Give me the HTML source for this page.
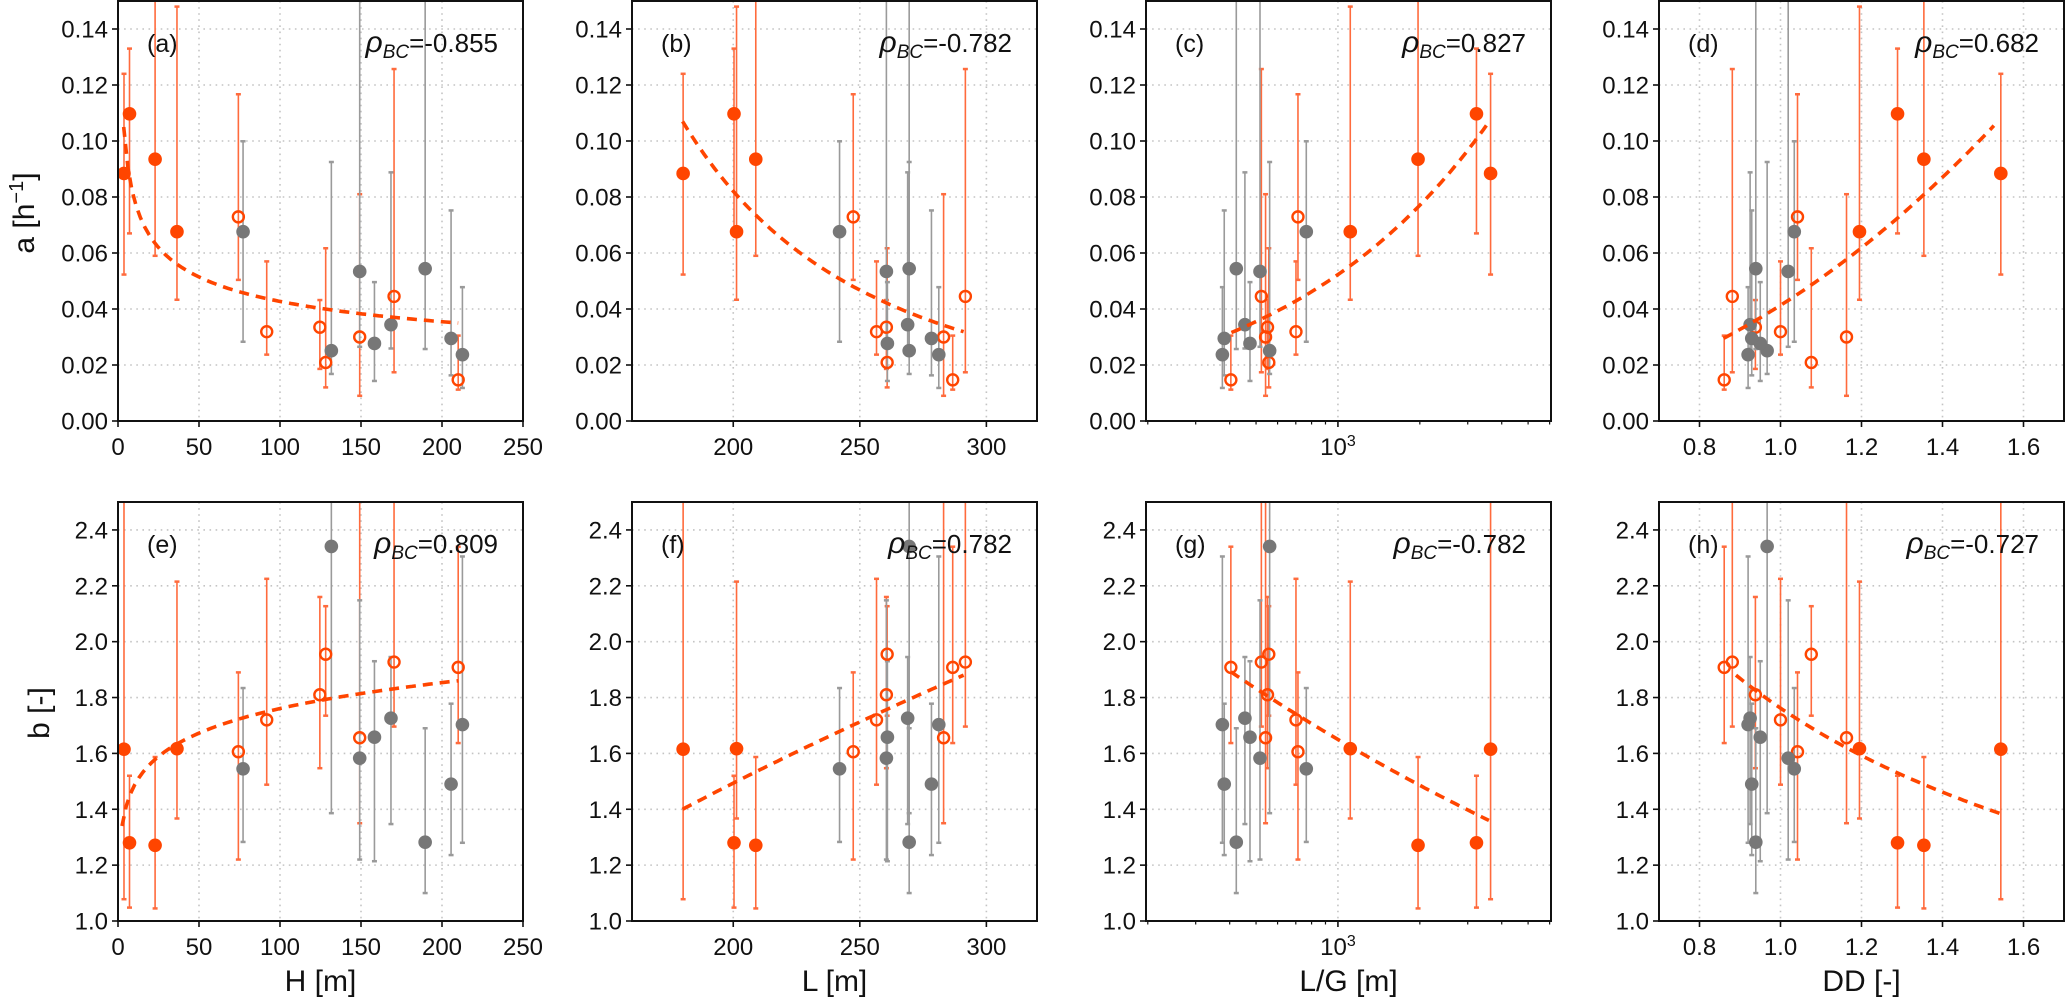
<!DOCTYPE html>
<html><head><meta charset="utf-8">
<style>
html,body{margin:0;padding:0;background:#fff;}
svg{display:block;font-family:"Liberation Sans",sans-serif;}
</style></head>
<body>
<svg id="chart" width="2067" height="1005" viewBox="0 0 2067 1005" xmlns="http://www.w3.org/2000/svg"></svg>
<script>
// ---- data (one entry per station) ----
const H  = [3.7,7.1,22.9,36.4,74.3,91.8,124.6,128.2,149.2,170.4,210,77.2,131.7,149.2,158.3,168.5,189.6,205.6,212.6];
const L  = [180.2,200.3,208.9,201.3,247.4,256.6,260.5,260.8,283.1,291.7,286.7,242,269.5,260.5,260.9,268.9,269.5,278.3,281.2];
const LG = [3640,3230,1970,1110,713,701,551,557,542,523,404,765,561,517,475,455,423,382,376];
const DD = [1.544,1.289,1.354,1.195,1.042,1.0,0.938,1.076,1.163,0.881,0.861,1.034,0.967,1.019,0.95,0.925,0.939,0.929,0.92];
const A   = [0.0884,0.1097,0.0935,0.0676,0.0729,0.0319,0.0335,0.0209,0.030,0.0445,0.0147,0.0676,0.0251,0.0534,0.0277,0.0344,0.0544,0.0295,0.0237];
const ALo = [0.0523,0.067,0.059,0.0433,0.0504,0.0237,0.0186,0.012,0.009,0.0174,0.0112,0.0283,0.0168,0.0265,0.0143,0.0259,0.0257,0.0163,0.0118];
const AHi = [0.124,0.133,0.17,0.148,0.1167,0.057,0.0432,0.0617,0.081,0.1257,0.0305,0.0999,0.0925,0.17,0.0496,0.0888,0.17,0.0752,0.0478];
const B   = [1.615,1.28,1.271,1.617,1.606,1.72,1.81,1.955,1.656,1.927,1.908,1.545,2.341,1.583,1.658,1.726,1.282,1.49,1.703];
const BLo = [1.078,1.048,1.045,1.367,1.22,1.488,1.547,1.735,1.35,1.696,1.637,1.283,1.386,1.22,1.214,1.347,1.1,1.236,1.28];
const BHi = [2.6,1.52,1.587,2.215,1.89,2.225,2.16,2.127,2.6,2.6,2.34,1.834,2.6,2.148,1.93,1.945,1.69,1.778,2.305];
const KIND = ['f','f','f','f','o','o','o','o','o','o','o','g','g','g','g','g','g','g','g'];
// fitted curves (power law endpoints)
const fitAx = [[3.5,210],[180,291],[406,3610],[0.859,1.527]];
const fitAy = [[0.105,0.035],[0.107,0.0319],[0.0316,0.1072],[0.0295,0.1055]];
const fitBx = [[2.5,210],[180,291],[404,3590],[0.89,1.542]];
const fitBy = [[1.34,1.86],[1.40,1.88],[1.892,1.36],[1.88,1.385]];
const rhoA = ['-0.855','-0.782','0.827','0.682'];
const rhoB = ['0.809','0.782','-0.782','-0.727'];
const labelsA = ['(a)','(b)','(c)','(d)'];
const labelsB = ['(e)','(f)','(g)','(h)'];
const xTitles = ['H [m]','L [m]','L/G [m]','DD [-]'];
const xTicks = [[0,50,100,150,200,250],[200,250,300],[1000],[0.8,1.0,1.2,1.4,1.6]];
const xTickLabels = [['0','50','100','150','200','250'],['200','250','300'],['10³'],['0.8','1.0','1.2','1.4','1.6']];
const xRanges = [[0,250],[160,320],[197,6070],[0.7,1.7]];
const yTicksA = [0,0.02,0.04,0.06,0.08,0.10,0.12,0.14];
const yTicksB = [1.0,1.2,1.4,1.6,1.8,2.0,2.2,2.4];

// ---- layout ----
const NS='http://www.w3.org/2000/svg';
const svg=document.getElementById('chart');
const LEFTS=[118,632,1146,1659], PW=405;
const ROWS=[{top:1,bot:421,ymin:0,ymax:0.15},{top:502,bot:921,ymin:1.0,ymax:2.5}];
const OR='#ff4500', ORBAR='#ff6b3d', GR='#777777', GRBAR='#9a9a9a';
function mk(tag,parent,attrs){const e=document.createElementNS(NS,tag);for(const k in attrs)e.setAttribute(k,attrs[k]);parent.appendChild(e);return e;}

const defs=mk('defs',svg,{});
const xsets=[H,L,LG,DD];

for(let row=0;row<2;row++){
  const R=ROWS[row];
  const ys=row===0?A:B, lo=row===0?ALo:BLo, hi=row===0?AHi:BHi;
  const yTicks=row===0?yTicksA:yTicksB;
  for(let c=0;c<4;c++){
    const x0=LEFTS[c], x1=x0+PW;
    const isLog=(c===2);
    const [xmn,xmx]=xRanges[c];
    const sx=v=>isLog? x0+(Math.log10(v)-Math.log10(xmn))/(Math.log10(xmx)-Math.log10(xmn))*PW : x0+(v-xmn)/(xmx-xmn)*PW;
    const sy=v=>R.bot-(v-R.ymin)/(R.ymax-R.ymin)*(R.bot-R.top);
    const pid=labelsA[c].replace(/[()]/g,'')+'-'+row;
    const g=mk('g',svg,{});
    
    
    const cp=mk('clipPath',defs,{id:'cp'+pid});
    mk('rect',cp,{x:x0,y:R.top,width:PW,height:R.bot-R.top});
    // grid
    const grid=mk('g',g,{stroke:'#c4c4c4','stroke-width':1.6,'stroke-dasharray':'1.6 4.5'});
    
    
    yTicks.forEach(t=>{ if(t>R.ymin) mk('line',grid,{x1:x0,x2:x1,y1:sy(t),y2:sy(t)}); });
    xTicks[c].forEach(t=>{ const X=sx(t); if(X>x0+1&&X<x1-1) mk('line',grid,{x1:X,x2:X,y1:R.top,y2:R.bot}); });
    // data
    const dg=mk('g',g,{'clip-path':'url(#cp'+pid+')'});
    
    
    const order=[...Array(ys.length).keys()];
    order.forEach(i=>{
      const X=sx(xsets[c][i]);
      const col=KIND[i]==='g'?GRBAR:ORBAR;
      const eb=mk('g',dg,{stroke:col,'stroke-width':1.6});
      
      
      mk('line',eb,{x1:X,x2:X,y1:sy(lo[i]),y2:sy(hi[i])});
      mk('line',eb,{x1:X-2.5,x2:X+2.5,y1:sy(lo[i]),y2:sy(lo[i]),'stroke-width':2.5});
      mk('line',eb,{x1:X-2.5,x2:X+2.5,y1:sy(hi[i]),y2:sy(hi[i]),'stroke-width':2.5});
    });
    order.forEach(i=>{
      const X=sx(xsets[c][i]), Y=sy(ys[i]);
      let m;
      if(KIND[i]==='f') m=mk('circle',dg,{cx:X,cy:Y,r:6.8,fill:OR});
      else if(KIND[i]==='o') m=mk('circle',dg,{cx:X,cy:Y,r:5.5,fill:'none',stroke:OR,'stroke-width':2.4});
      else m=mk('circle',dg,{cx:X,cy:Y,r:6.8,fill:GR});
      
      
    });
    // fit
    const fx=row===0?fitAx[c]:fitBx[c], fy=row===0?fitAy[c]:fitBy[c];
    const p=Math.log(fy[1]/fy[0])/Math.log(fx[1]/fx[0]);
    let d='';
    for(let k=0;k<=80;k++){
      const v=isLog? fx[0]*Math.pow(fx[1]/fx[0],k/80) : fx[0]+(fx[1]-fx[0])*k/80;
      const yv=fy[0]*Math.pow(v/fx[0],p);
      d+=(k?'L':'M')+sx(v).toFixed(1)+','+sy(yv).toFixed(1);
    }
    const fl=mk('path',dg,{d:d,fill:'none',stroke:OR,'stroke-width':3.6,'stroke-dasharray':'10 7'});
    
    
    // frame
    const fr=mk('rect',g,{x:x0,y:R.top,width:PW,height:R.bot-R.top,fill:'none',stroke:'#111','stroke-width':2});
    
    
    // y ticks
    const yax=mk('g',g,{});
    
    
    yTicks.forEach(t=>{
      const Y=sy(t);
      mk('line',yax,{x1:x0-6,x2:x0,y1:Y,y2:Y,stroke:'#111','stroke-width':1.6});
      const tx=mk('text',yax,{x:x0-10,y:Y+8.5,'text-anchor':'end','font-size':24,fill:'#111'});
      tx.textContent=row===0?t.toFixed(2):t.toFixed(1);
      
      
    });
    // x ticks
    const xax=mk('g',g,{});
    
    
    if(isLog){
      const minors=[200,300,400,500,600,700,800,900,2000,3000,4000,5000,6000];
      minors.forEach(v=>{ if(v>=xmn&&v<=xmx){const X=sx(v); mk('line',xax,{x1:X,x2:X,y1:R.bot,y2:R.bot+3.5,stroke:'#111','stroke-width':1.2});}});
    }
    xTicks[c].forEach((t,j)=>{
      const X=sx(t);
      mk('line',xax,{x1:X,x2:X,y1:R.bot,y2:R.bot+6,stroke:'#111','stroke-width':1.6});
      const tx=mk('text',xax,{x:X,y:R.bot+34,'text-anchor':'middle','font-size':24,fill:'#111'});
      if(isLog){ tx.textContent='10'; const s=mk('tspan',tx,{dy:-9,'font-size':16}); s.textContent='3'; }
      else tx.textContent=xTickLabels[c][j];
      
      
    });
    // annotations
    const lab=mk('text',g,{x:x0+29,y:R.top+51,'font-size':25,fill:'#111'});
    lab.textContent=row===0?labelsA[c]:labelsB[c];
    
    
    const rt=mk('text',g,{x:x0+380,y:R.top+51,'text-anchor':'end','font-size':26,fill:'#111'});
    const t1=mk('tspan',rt,{'font-style':'italic','font-size':30}); t1.textContent='ρ';
    const t2=mk('tspan',rt,{'font-style':'italic','font-size':19,dy:6}); t2.textContent='BC';
    const t3=mk('tspan',rt,{dy:-6}); t3.textContent='='+(row===0?rhoA[c]:rhoB[c]);
    
    
    if(row===1){
      const xt=mk('text',svg,{x:x0+PW/2,y:991,'text-anchor':'middle','font-size':30,fill:'#111'});
      xt.textContent=xTitles[c];
      
      
    }
  }
}
// y axis titles
const ya=mk('text',svg,{transform:'translate(34,213) rotate(-90)','text-anchor':'middle','font-size':30,fill:'#111'});
ya.textContent='a [h';
const yas=mk('tspan',ya,{dy:-11,'font-size':20}); yas.textContent='−1';
const yae=mk('tspan',ya,{dy:11}); yae.textContent=']';


const yb=mk('text',svg,{transform:'translate(49,713) rotate(-90)','text-anchor':'middle','font-size':30,fill:'#111'});
yb.textContent='b [-]';


</script>
</body></html>
